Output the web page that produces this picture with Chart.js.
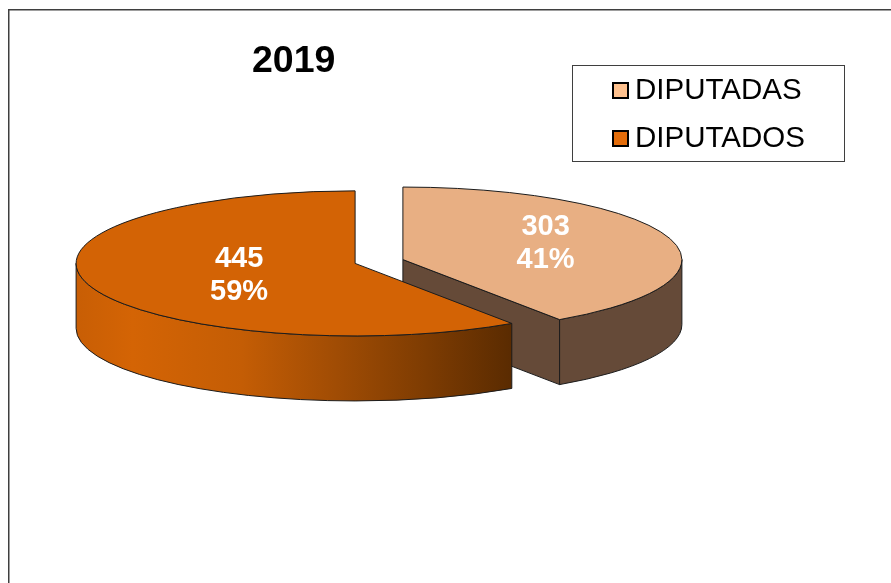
<!DOCTYPE html>
<html>
<head>
<meta charset="utf-8">
<style>
  html, body { margin: 0; padding: 0; background: #fff; }
  canvas { display: block; }
</style>
<script src="https://cdn.jsdelivr.net/npm/chart.js@4"></script>
</head>
<body>
<canvas id="pieChart" width="891" height="583"></canvas>
<script>
const chartTitle = "2019";
const categories = ["DIPUTADAS", "DIPUTADOS"];
const seriesValues = [303, 445];
const percentLabels = ["41%", "59%"];

const sliceColors = ["#E8AF83", "#D36305"];
const swatchColors = ["#FFC28F", "#E36C0A"];

const FONT = '"Liberation Sans", Arial, sans-serif';
const TILT = 0.26;
const DEPTH = 65;
const EXPLODE = 25;

function sliceInfo(arc) {
  const mid = (arc.startAngle + arc.endAngle) / 2;
  return {
    cx: arc.x + Math.cos(mid) * EXPLODE,
    cy: arc.y + Math.sin(mid) * EXPLODE * TILT,
    r: arc.outerRadius,
    start: arc.startAngle,
    end: arc.endAngle,
  };
}

function edgePoint(s, angle) {
  return { x: s.cx + Math.cos(angle) * s.r, y: s.cy + Math.sin(angle) * s.r * TILT };
}

function sideGradient(ctx, i) {
  if (i === 0) return "#654A38";
  const g = ctx.createLinearGradient(76, 0, 512, 0);
  g.addColorStop(0, "#C85E05");
  g.addColorStop(0.13, "#D46405");
  g.addColorStop(0.38, "#C45D05");
  g.addColorStop(0.6, "#A04C04");
  g.addColorStop(0.8, "#7E3C02");
  g.addColorStop(1, "#5A2B01");
  return g;
}

function paintPath(ctx, fill) {
  if (fill) {
    ctx.fillStyle = fill;
    ctx.fill();
  }
  ctx.strokeStyle = "#1c1c1c";
  ctx.lineWidth = 1;
  ctx.stroke();
}

function drawSides(ctx, arc, i) {
  const s = sliceInfo(arc);
  const fill = sideGradient(ctx, i);

  // cut faces that point at the viewer
  [[s.end, Math.cos(s.end) > 1e-6], [s.start, Math.cos(s.start) < -1e-6]].forEach(([angle, visible]) => {
    if (!visible) return;
    const p = edgePoint(s, angle);
    ctx.beginPath();
    ctx.moveTo(s.cx, s.cy);
    ctx.lineTo(p.x, p.y);
    ctx.lineTo(p.x, p.y + DEPTH);
    ctx.lineTo(s.cx, s.cy + DEPTH);
    ctx.closePath();
    paintPath(ctx, fill);
  });

  // outer wall, only the front half of the ellipse
  const a0 = Math.max(s.start, 0);
  const a1 = Math.min(s.end, Math.PI);
  if (a1 > a0) {
    ctx.beginPath();
    ctx.ellipse(s.cx, s.cy, s.r, s.r * TILT, 0, a0, a1);
    ctx.ellipse(s.cx, s.cy + DEPTH, s.r, s.r * TILT, 0, a1, a0, true);
    ctx.closePath();
    paintPath(ctx, fill);
  }
}

function drawTop(ctx, arc) {
  const s = sliceInfo(arc);

  // the arc option "offset" also bends the slice, so move and squash it here
  ctx.save();
  ctx.translate(s.cx, s.cy);
  ctx.scale(1, TILT);
  ctx.translate(-arc.x, -arc.y);
  arc.draw(ctx);
  ctx.restore();

  const p = edgePoint(s, s.start);
  ctx.beginPath();
  ctx.moveTo(s.cx, s.cy);
  ctx.lineTo(p.x, p.y);
  ctx.ellipse(s.cx, s.cy, s.r, s.r * TILT, 0, s.start, s.end);
  ctx.closePath();
  paintPath(ctx, null);
}

const pie3d = {
  id: "pie3d",
  beforeDatasetDraw(chart, args) {
    const ctx = chart.ctx;
    const arcs = args.meta.data;
    arcs.forEach((arc, i) => drawSides(ctx, arc, i));
    arcs.forEach((arc) => drawTop(ctx, arc));
    return false;
  },
};

const labelPlacement = [
  { f: 0.535, dy: -7 },
  { f: 0.435, dy: 0 },
];

const decorations = {
  id: "decorations",
  beforeDraw(chart) {
    const ctx = chart.ctx;
    ctx.fillStyle = "#fff";
    ctx.fillRect(0, 0, 891, 583);
    ctx.strokeStyle = "#3f3f3f";
    ctx.lineWidth = 1.5;
    ctx.beginPath();
    ctx.moveTo(8.75, 583);
    ctx.lineTo(8.75, 9.75);
    ctx.lineTo(891, 9.75);
    ctx.stroke();
  },
  afterDraw(chart) {
    const ctx = chart.ctx;

    ctx.textBaseline = "alphabetic";
    ctx.textAlign = "left";
    ctx.fillStyle = "#000";
    ctx.font = "bold 37.5px " + FONT;
    ctx.fillText(chartTitle, 252, 72);

    // legend box
    ctx.fillStyle = "#fff";
    ctx.fillRect(572.5, 65.5, 272, 96);
    ctx.strokeStyle = "#3f3f3f";
    ctx.lineWidth = 1;
    ctx.strokeRect(572.5, 65.5, 272, 96);

    categories.forEach((name, i) => {
      const y = 99 + i * 48;
      ctx.fillStyle = swatchColors[i];
      ctx.strokeStyle = "#000";
      ctx.lineWidth = 2;
      ctx.fillRect(613, y - 16, 15, 15);
      ctx.strokeRect(613, y - 16, 15, 15);
      ctx.fillStyle = "#000";
      ctx.font = "29.5px " + FONT;
      ctx.fillText(name, 635, y);
    });

    // value and percent on each slice
    ctx.textAlign = "center";
    ctx.fillStyle = "#fff";
    ctx.font = "bold 29px " + FONT;
    chart.getDatasetMeta(0).data.forEach((arc, i) => {
      const mid = (arc.startAngle + arc.endAngle) / 2;
      const dist = EXPLODE + arc.outerRadius * labelPlacement[i].f;
      const x = arc.x + Math.cos(mid) * dist;
      const y = arc.y + Math.sin(mid) * dist * TILT + labelPlacement[i].dy;
      ctx.fillText(String(seriesValues[i]), x, y - 6);
      ctx.fillText(percentLabels[i], x, y + 27);
    });
  },
};

new Chart(document.getElementById("pieChart"), {
  type: "pie",
  data: {
    labels: categories,
    datasets: [
      {
        data: seriesValues,
        backgroundColor: sliceColors,
        borderWidth: 0,
      },
    ],
  },
  options: {
    responsive: false,
    animation: false,
    events: [],
    radius: 279,
    layout: { padding: { left: 0, top: 0, right: 133, bottom: 60 } },
    plugins: {
      legend: { display: false },
      title: { display: false },
      tooltip: { enabled: false },
    },
  },
  plugins: [decorations, pie3d],
});
</script>
</body>
</html>
